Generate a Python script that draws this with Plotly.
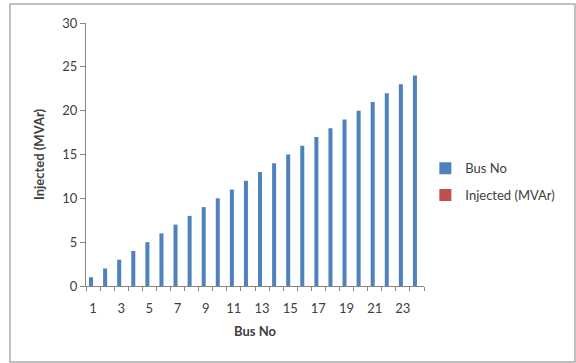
import plotly.graph_objects as go

# Bus numbers and injected reactive power per bus
bus_no = list(range(1, 25))
bus_no_values = [1, 2, 3, 4, 5, 6, 7, 8, 9, 10, 11, 12,
                 13, 14, 15, 16, 17, 18, 19, 20, 21, 22, 23, 24]
injected_mvar = [0] * 24
x_tick_labels = [str(v) for v in range(1, 25, 2)]

FONT = "Lato"
AXIS_GREY = "#868686"

fig = go.Figure()
fig.add_trace(go.Bar(
    x=bus_no, y=bus_no_values, name="Bus No",
    marker=dict(color="#4F81BD", line=dict(width=0)),
    legendgroup="a",
))
fig.add_trace(go.Bar(
    x=bus_no, y=injected_mvar, name="Injected (MVAr)",
    marker=dict(color="#C0504D", line=dict(width=0)),
    legendgroup="b",
))

# outer chart border
fig.add_shape(type="rect", xref="paper", yref="paper",
              x0=-0.2249, x1=1.4467, y0=-0.289, y1=1.072,
              line=dict(color="#ABABAB", width=1.5), layer="below")

fig.update_layout(
    width=576, height=363,
    margin=dict(l=86, r=152, t=23, b=77, autoexpand=False),
    paper_bgcolor="white", plot_bgcolor="white",
    barmode="group", bargap=1.5 / 3.5, bargroupgap=0,
    font=dict(family=FONT, size=13, color="#404040"),
    showlegend=True,
    legend=dict(x=1.004, y=0.505, xanchor="left", yanchor="top",
                traceorder="grouped", tracegroupgap=7,
                bgcolor="rgba(0,0,0,0)",
                font=dict(family=FONT, size=13, color="#404040"),
                itemwidth=30),
    xaxis=dict(
        range=[0.5, 24.5], showgrid=False, zeroline=False,
        showline=True, linecolor=AXIS_GREY, linewidth=1,
        tickmode="array", tickvals=list(range(1, 25, 2)),
        ticktext=x_tick_labels, ticks="", ticklabelstandoff=10,
        minor=dict(tickmode="linear", tick0=0.5, dtick=1,
                   ticks="outside", ticklen=4, tickcolor=AXIS_GREY),
        title=dict(text="<b>Bus No</b>", standoff=12,
                   font=dict(family=FONT, size=13, color="#404040")),
    ),
    yaxis=dict(
        range=[0, 30], dtick=5, showgrid=False, zeroline=False,
        showline=True, linecolor=AXIS_GREY, linewidth=1,
        ticks="outside", ticklen=5, tickcolor=AXIS_GREY,
        title=dict(text="<b>Injected (MVAr)</b>", standoff=14,
                   font=dict(family=FONT, size=13, color="#404040")),
    ),
)

fig.write_html("out.html")
